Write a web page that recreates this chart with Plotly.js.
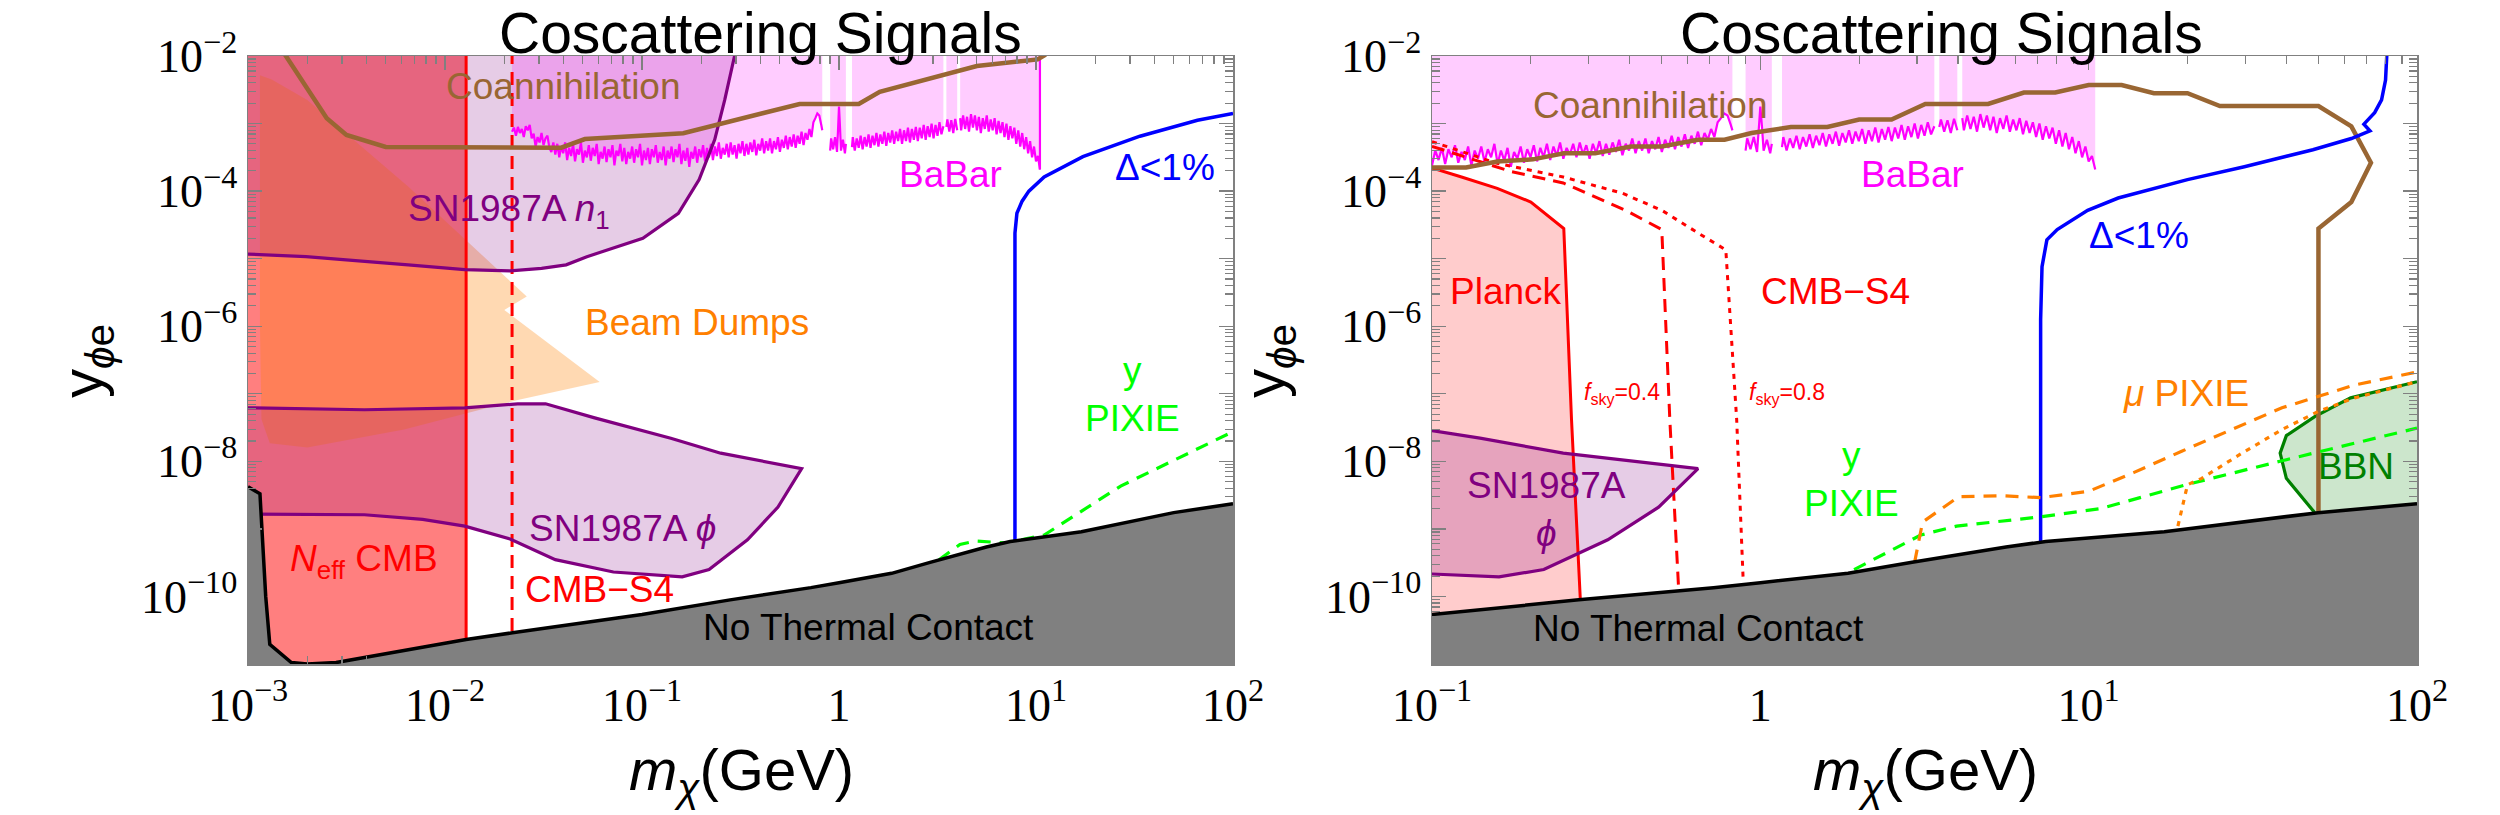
<!DOCTYPE html>
<html>
<head>
<meta charset="utf-8">
<script src="https://cdn.plot.ly/plotly-3.0.1.min.js"></script>
<style>
  html, body { margin: 0; padding: 0; background: #ffffff; }
  #chart { width: 2500px; height: 815px; }
</style>
</head>
<body>
<div id="chart"></div>
<script>
// Coscattering dark-matter parameter space: mass m_chi (GeV) vs coupling y_phi_e.

// ---------- shared constraints ----------
// No thermal contact (lower edge of the allowed band)
const ntcMass     = [1e-3, 1.15e-3, 1.23e-3, 1.29e-3, 1.66e-3, 2.0e-3, 2.8e-3, 0.0128, 0.022, 0.1, 0.28, 0.72, 1.0, 1.85, 2.9, 5.6, 7.4, 17, 50, 100];
const ntcCoupling = [4.2e-9, 3.3e-9, 1.0e-10, 1.95e-11, 1.05e-11, 1.0e-11, 1.05e-11, 2.3e-11, 2.9e-11, 5.4e-11, 8.9e-11, 1.35e-10, 1.6e-10, 2.2e-10, 3.2e-10, 5.4e-10, 6.5e-10, 9.1e-10, 1.74e-9, 2.35e-9];

// BaBar mono-photon limit, stored as log10 values; null marks a gap in the search
const babarLogMass = [
  -1.66,-1.65,-1.64,-1.63,-1.62,-1.61,-1.60,-1.59,-1.58,-1.57,
  -1.56,-1.55,-1.54,-1.53,-1.52,-1.51,-1.50,-1.49,-1.48,-1.47,
  -1.46,-1.45,-1.44,-1.43,-1.42,-1.41,-1.40,-1.39,-1.38,-1.37,
  -1.36,-1.35,-1.34,-1.33,-1.32,-1.31,-1.30,-1.29,-1.28,-1.27,
  -1.26,-1.25,-1.24,-1.23,-1.22,-1.21,-1.20,-1.19,-1.18,-1.17,
  -1.16,-1.15,-1.14,-1.13,-1.12,-1.11,-1.10,-1.09,-1.08,-1.07,
  -1.06,-1.05,-1.04,-1.03,-1.02,-1.01,-1.00,-0.99,-0.98,-0.97,
  -0.96,-0.95,-0.94,-0.93,-0.92,-0.91,-0.90,-0.89,-0.88,-0.87,
  -0.86,-0.85,-0.84,-0.83,-0.82,-0.81,-0.80,-0.79,-0.78,-0.77,
  -0.76,-0.75,-0.74,-0.73,-0.72,-0.71,-0.70,-0.69,-0.68,-0.67,
  -0.66,-0.65,-0.64,-0.63,-0.62,-0.61,-0.60,-0.59,-0.58,-0.57,
  -0.56,-0.55,-0.54,-0.53,-0.52,-0.51,-0.50,-0.49,-0.48,-0.47,
  -0.46,-0.45,-0.44,-0.43,-0.42,-0.41,-0.40,-0.39,-0.38,-0.37,
  -0.36,-0.35,-0.34,-0.33,-0.32,-0.31,-0.30,-0.29,-0.28,-0.27,
  -0.26,-0.25,-0.24,-0.23,-0.22,-0.21,-0.20,-0.19,-0.18,-0.17,
  -0.16,-0.15,-0.14,-0.13,-0.12,-0.11,-0.10,-0.09,-0.085, null,
  -0.045,-0.04,-0.03,-0.02,-0.01,-0.005,0.0,0.005,0.01,0.02,0.03,0.035, null,
  0.066,
  0.07,0.08,0.09,0.10,0.11,0.12,0.13,0.14,0.15,0.16,
  0.17,0.18,0.19,0.20,0.21,0.22,0.23,0.24,0.25,0.26,
  0.27,0.28,0.29,0.30,0.31,0.32,0.33,0.34,0.35,0.36,
  0.37,0.38,0.39,0.40,0.41,0.42,0.43,0.44,0.45,0.46,
  0.47,0.48,0.49,0.50,0.51,0.52,0.53, null,
  0.545,0.55,0.56,0.57,0.58,0.59,0.60, null,
  0.615,
  0.62,0.63,0.64,0.65,0.66,0.67,0.68,0.69,0.70,0.71,
  0.72,0.73,0.74,0.75,0.76,0.77,0.78,0.79,0.80,0.81,
  0.82,0.83,0.84,0.85,0.86,0.87,0.88,0.89,0.90,0.91,
  0.92,0.93,0.94,0.95,0.96,0.97,0.98,0.99,1.00,1.01,1.02
];
const babarLogCoupling = [
  -3.12,-3.06,-3.18,-3.05,-3.14,-3.08,-3.20,-3.04,-3.10,-3.02,
  -3.22,-3.15,-3.34,-3.20,-3.28,-3.14,-3.32,-3.22,-3.18,-3.36,
  -3.42,-3.28,-3.46,-3.30,-3.50,-3.34,-3.44,-3.28,-3.54,-3.36,
  -3.48,-3.30,-3.56,-3.38,-3.46,-3.28,-3.58,-3.40,-3.50,-3.32,
  -3.55,-3.36,-3.48,-3.30,-3.60,-3.42,-3.52,-3.34,-3.57,-3.38,
  -3.50,-3.32,-3.62,-3.40,-3.48,-3.30,-3.56,-3.36,-3.60,-3.42,
  -3.52,-3.34,-3.58,-3.38,-3.50,-3.30,-3.62,-3.40,-3.54,-3.36,
  -3.60,-3.38,-3.50,-3.32,-3.58,-3.42,-3.54,-3.34,-3.62,-3.40,
  -3.52,-3.34,-3.57,-3.38,-3.50,-3.30,-3.60,-3.40,-3.55,-3.36,
  -3.64,-3.42,-3.52,-3.34,-3.58,-3.38,-3.50,-3.32,-3.56,-3.36,
  -3.50,-3.30,-3.54,-3.34,-3.48,-3.28,-3.52,-3.36,-3.46,-3.30,
  -3.50,-3.28,-3.46,-3.32,-3.52,-3.30,-3.44,-3.26,-3.48,-3.30,
  -3.46,-3.28,-3.42,-3.24,-3.47,-3.30,-3.40,-3.22,-3.44,-3.26,
  -3.40,-3.22,-3.44,-3.26,-3.38,-3.20,-3.42,-3.24,-3.36,-3.18,
  -3.38,-3.20,-3.34,-3.16,-3.36,-3.18,-3.30,-3.12,-3.32,-3.14,
  -3.24,-3.08,-3.20,-2.98,-2.92,-2.85,-2.88,-3.02,-3.10, null,
  -3.40,-3.22,-3.38,-3.20,-3.42,-3.10,-2.75,-3.05,-3.40,-3.24,-3.44,-3.30, null,
  -3.35,
  -3.20,-3.40,-3.22,-3.36,-3.18,-3.38,-3.20,-3.34,-3.16,-3.36,
  -3.18,-3.32,-3.14,-3.34,-3.16,-3.30,-3.12,-3.33,-3.14,-3.28,
  -3.10,-3.30,-3.12,-3.26,-3.08,-3.30,-3.10,-3.26,-3.06,-3.28,
  -3.08,-3.24,-3.05,-3.26,-3.06,-3.22,-3.02,-3.24,-3.04,-3.20,
  -3.00,-3.22,-3.02,-3.18,-2.98,-3.16,-3.04, null,
  -3.05,-2.94,-3.12,-2.95,-3.14,-2.93,-3.10, null,
  -2.92,
  -3.10,-2.88,-3.08,-2.90,-3.12,-2.86,-3.06,-2.88,-3.10,-2.90,
  -3.14,-2.92,-3.08,-2.88,-3.12,-2.94,-3.10,-2.92,-3.16,-2.96,
  -3.14,-2.98,-3.20,-3.00,-3.24,-3.04,-3.22,-3.06,-3.30,-3.10,
  -3.34,-3.14,-3.38,-3.20,-3.44,-3.26,-3.50,-3.34,-3.56,-3.48,-3.68
];

// SN1987A phi cooling region (upper edge, then lower edge back)
const snPhiMass     = [1e-3, 3.9e-3, 0.0126, 0.0234, 0.0324, 0.0575, 0.140, 0.251, 0.646, 0.490, 0.343, 0.219, 0.160, 0.0716, 0.0363, 0.0214, 0.0126, 7.7e-3, 3.9e-3, 1e-3];
const snPhiCoupling = [6.2e-8, 5.8e-8, 6.2e-8, 7.1e-8, 7.1e-8, 4.4e-8, 2.2e-8, 1.32e-8, 7.8e-9, 2.1e-9, 6.9e-10, 2.5e-10, 1.95e-10, 2.3e-10, 3.5e-10, 7.1e-10, 1.1e-9, 1.38e-9, 1.62e-9, 1.66e-9];

// ---------- left panel ----------
const neffMassBound  = 0.0128;   // N_eff CMB (Planck)
const cmbS4MassBound = 0.0219;   // CMB-S4 projection

const beamMass     = [1.15e-3, 1.32e-3, 2.0e-3, 6.5e-3, 0.026, 0.020, 0.061, 0.0234, 6.2e-3, 2.0e-3, 1.29e-3, 1.17e-3, 1.15e-3];
const beamCoupling = [5.2e-3, 4.5e-3, 2.24e-3, 1.17e-4, 2.75e-6, 1.74e-6, 1.5e-7, 8.1e-8, 2.95e-8, 1.6e-8, 1.86e-8, 4.2e-8, 1e-6];

const snN1Mass     = [1e-3, 1.97e-3, 6.5e-3, 0.0126, 0.0214, 0.0309, 0.0412, 0.0525, 0.101, 0.153, 0.195, 0.234, 0.263, 0.295];
const snN1Coupling = [1.17e-5, 1.07e-5, 8.1e-6, 6.9e-6, 6.6e-6, 7.2e-6, 8.1e-6, 1.07e-5, 2.0e-5, 4.7e-5, 1.48e-4, 5.8e-4, 2.24e-3, 1e-2];

const coannLeftMass     = [1.5e-3, 2.51e-3, 3.16e-3, 5.0e-3, 0.0389, 0.0513, 0.162, 0.631, 1.26, 1.61, 5.01, 10.2, 11.2];
const coannLeftCoupling = [0.0118, 1.2e-3, 6.8e-4, 4.5e-4, 4.4e-4, 5.9e-4, 7.2e-4, 1.95e-3, 1.95e-3, 2.95e-3, 7.1e-3, 8.9e-3, 0.0105];

const deltaLeftMass     = [7.82, 7.82, 8.0, 8.5, 9.2, 11.0, 17.3, 33.7, 66, 100];
const deltaLeftCoupling = [6.5e-10, 2.4e-5, 4.7e-5, 7.1e-5, 1.0e-4, 1.62e-4, 3.24e-4, 6.5e-4, 1.12e-3, 1.41e-3];

const yPixieLeftMass     = [3.22, 4.11, 4.93, 7.05, 11.0, 26.9, 100];
const yPixieLeftCoupling = [3.5e-10, 5.9e-10, 6.6e-10, 6.2e-10, 8.1e-10, 4.3e-9, 2.75e-8];

// ---------- right panel ----------
const planckMass     = [0.1, 0.123, 0.158, 0.2, 0.252, 0.266, 0.283];
const planckCoupling = [2.2e-4, 1.62e-4, 1.1e-4, 6.9e-5, 2.8e-5, 4.2e-8, 8.9e-11];

const s4Sky04Mass     = [0.1, 0.174, 0.251, 0.389, 0.501, 0.530, 0.564];
const s4Sky04Coupling = [4.6e-4, 1.95e-4, 1.32e-4, 5.2e-5, 2.7e-5, 4.2e-8, 1.26e-10];
const s4Sky08Mass     = [0.1, 0.158, 0.251, 0.38, 0.501, 0.646, 0.785, 0.847, 0.887];
const s4Sky08Coupling = [5.4e-4, 2.57e-4, 1.62e-4, 9.3e-5, 5.2e-5, 2.4e-5, 1.35e-5, 4.2e-8, 1.66e-10];

const coannRightMass     = [0.1, 0.127, 0.158, 0.203, 0.252, 0.314, 0.404, 0.501, 0.646, 0.778, 0.94, 1.24, 1.6, 2.0, 2.51, 3.18, 4.94, 6.35, 7.91, 10.0, 12.6, 15.8, 20, 25.1, 50.1, 63.1, 72.4, 63.1, 50.1, 50.1];
const coannRightCoupling = [2.24e-4, 2.24e-4, 2.75e-4, 2.95e-4, 3.63e-4, 3.63e-4, 4.57e-4, 4.57e-4, 5.75e-4, 5.75e-4, 7.24e-4, 8.9e-4, 8.9e-4, 1.15e-3, 1.15e-3, 1.95e-3, 1.95e-3, 2.88e-3, 2.88e-3, 3.72e-3, 3.72e-3, 2.82e-3, 2.82e-3, 1.82e-3, 1.82e-3, 9.1e-4, 2.63e-4, 6.9e-5, 2.8e-5, 1.74e-9];

const deltaRightMass     = [7.14, 7.14, 7.21, 7.46, 8.02, 9.93, 12.3, 20.0, 29.8, 48.2, 63.1, 71.9, 68.9, 74.3, 78.0, 80.2, 80.9];
const deltaRightCoupling = [6.3e-10, 1.26e-6, 7.6e-6, 1.9e-5, 2.7e-5, 5.2e-5, 7.9e-5, 1.48e-4, 2.3e-4, 4.1e-4, 6.0e-4, 7.8e-4, 9.8e-4, 1.45e-3, 2.24e-3, 4.4e-3, 0.0102];

const yPixieRightMass     = [1.93, 3.08, 3.96, 7.16, 10.9, 19.8, 38.8, 100];
const yPixieRightCoupling = [2.5e-10, 8.1e-10, 1.1e-9, 1.51e-9, 2.0e-9, 4.5e-9, 1.02e-8, 3.1e-8];

const muPixieMass     = [2.95, 3.12, 4.02, 5.41, 7.16, 10.0, 13.7, 19.2, 38.8, 64.6, 100];
const muPixieCoupling = [3.2e-10, 1.26e-9, 3.0e-9, 3.1e-9, 2.9e-9, 3.6e-9, 6.8e-9, 1.41e-8, 6.2e-8, 1.35e-7, 2.1e-7];
const muPixieAltMass     = [18.7, 20.0, 22.1, 29.3, 38.8, 50.1, 64.6, 100];
const muPixieAltCoupling = [1.1e-9, 4.5e-9, 5.6e-9, 1.32e-8, 2.95e-8, 5.5e-8, 8.7e-8, 1.51e-7];

const bbnMass     = [48.8, 40.0, 38.3, 40.0, 48.8, 62.8, 100];
const bbnCoupling = [1.74e-9, 5.6e-9, 1.32e-8, 2.4e-8, 4.6e-8, 8.7e-8, 1.51e-7];

// ---------- helpers ----------
// Points far outside the frame, used only to close filled regions
const Y_LOW = 1e-13, Y_HIGH = 1, X_LOW = 1e-5, X_HIGH = 1e4;

const toLinear = arr => arr.map(v => (v === null ? null : Math.pow(10, v)));
const babarMass = toLinear(babarLogMass);
const babarCoupling = toLinear(babarLogCoupling);

function segments(xs, ys) {
  const out = []; let cur = [];
  xs.forEach((x, i) => {
    if (x === null || ys[i] === null) { if (cur.length) out.push(cur); cur = []; }
    else cur.push([x, ys[i]]);
  });
  if (cur.length) out.push(cur);
  return out;
}
// one closed polygon per segment, running from the curve up past the top of the frame
function regionAbove(xs, ys) {
  const X = [], Y = [];
  segments(xs, ys).forEach(seg => {
    seg.forEach(p => { X.push(p[0]); Y.push(p[1]); });
    X.push(seg[seg.length - 1][0], seg[0][0], null);
    Y.push(Y_HIGH, Y_HIGH, null);
  });
  return { x: X, y: Y };
}
const last = a => a[a.length - 1];

const C = {
  red: '#FF0000', purple: '#800080', brown: '#996633', magenta: '#FF00FF', blue: '#0000FF',
  green: '#00FF00', orange: '#FF8000', dkgreen: '#008000', gray: '#808080', black: '#000000'
};

function fillTrace(ax, x, y, color) {
  return { type: 'scatter', mode: 'lines', xaxis: ax[0], yaxis: ax[1], x, y,
           fill: 'toself', fillcolor: color, line: { width: 0 }, hoverinfo: 'skip' };
}
function lineTrace(ax, x, y, color, width, dash) {
  return { type: 'scatter', mode: 'lines', xaxis: ax[0], yaxis: ax[1], x, y,
           line: { color, width, dash: dash || 'solid', simplify: false }, hoverinfo: 'skip' };
}

const L = ['x', 'y'], R = ['x2', 'y2'];
const babarRegion = regionAbove(babarMass, babarCoupling);
const babarEnd = segments(babarMass, babarCoupling).slice(-1)[0].slice(-1)[0];

const traces = [
  // ---- left panel fills ----
  fillTrace(L, [X_LOW, neffMassBound, neffMassBound, X_LOW], [Y_LOW, Y_LOW, Y_HIGH, Y_HIGH], 'rgba(255,0,0,0.5)'),
  fillTrace(L, beamMass, beamCoupling, 'rgba(255,128,0,0.3)'),
  fillTrace(L, [X_LOW].concat(snN1Mass, [last(snN1Mass), X_LOW]),
               [snN1Coupling[0]].concat(snN1Coupling, [Y_HIGH, Y_HIGH]), 'rgba(128,0,128,0.2)'),
  fillTrace(L, snPhiMass, snPhiCoupling, 'rgba(128,0,128,0.2)'),
  fillTrace(L, babarRegion.x, babarRegion.y, 'rgba(255,0,255,0.2)'),
  // ---- left panel curves ----
  lineTrace(L, babarMass, babarCoupling, C.magenta, 2.2),
  lineTrace(L, [babarEnd[0], babarEnd[0]], [babarEnd[1], Y_HIGH], C.magenta, 2.2),
  lineTrace(L, [neffMassBound, neffMassBound], [Y_LOW, Y_HIGH], C.red, 3),
  lineTrace(L, [cmbS4MassBound, cmbS4MassBound], [Y_LOW, Y_HIGH], C.red, 3, '13px,8px'),
  lineTrace(L, snN1Mass, snN1Coupling, C.purple, 3.2),
  lineTrace(L, snPhiMass, snPhiCoupling, C.purple, 3.2),
  lineTrace(L, coannLeftMass, coannLeftCoupling, C.brown, 4.5),
  lineTrace(L, deltaLeftMass, deltaLeftCoupling, C.blue, 3.5),
  lineTrace(L, yPixieLeftMass, yPixieLeftCoupling, C.green, 3.2, '13px,9px'),
  fillTrace(L, ntcMass.concat([last(ntcMass), ntcMass[0]]), ntcCoupling.concat([Y_LOW, Y_LOW]), C.gray),
  lineTrace(L, ntcMass, ntcCoupling, C.black, 3.5),

  // ---- right panel fills ----
  fillTrace(R, babarRegion.x, babarRegion.y, 'rgba(255,0,255,0.2)'),
  fillTrace(R, [X_LOW].concat(planckMass, [last(planckMass), X_LOW]),
               [planckCoupling[0]].concat(planckCoupling, [Y_LOW, Y_LOW]), 'rgba(255,0,0,0.2)'),
  fillTrace(R, snPhiMass, snPhiCoupling, 'rgba(128,0,128,0.2)'),
  fillTrace(R, bbnMass.concat([X_HIGH, X_HIGH, bbnMass[0]]),
               bbnCoupling.concat([last(bbnCoupling), Y_LOW, Y_LOW]), 'rgba(0,128,0,0.2)'),
  // ---- right panel curves ----
  lineTrace(R, babarMass, babarCoupling, C.magenta, 2.2),
  lineTrace(R, planckMass, planckCoupling, C.red, 3),
  lineTrace(R, s4Sky04Mass, s4Sky04Coupling, C.red, 3, '13px,8px'),
  lineTrace(R, s4Sky08Mass, s4Sky08Coupling, C.red, 3, '5px,6px'),
  lineTrace(R, snPhiMass, snPhiCoupling, C.purple, 3.2),
  lineTrace(R, bbnMass, bbnCoupling, C.dkgreen, 3.2),
  lineTrace(R, coannRightMass, coannRightCoupling, C.brown, 4.5),
  lineTrace(R, deltaRightMass, deltaRightCoupling, C.blue, 3.5),
  lineTrace(R, yPixieRightMass, yPixieRightCoupling, C.green, 3.2, '13px,9px'),
  lineTrace(R, muPixieMass, muPixieCoupling, C.orange, 3.2, '13px,9px'),
  lineTrace(R, muPixieAltMass, muPixieAltCoupling, C.orange, 3.2, '5px,6px'),
  fillTrace(R, ntcMass.concat([last(ntcMass), ntcMass[0]]), ntcCoupling.concat([Y_LOW, Y_LOW]), C.gray),
  lineTrace(R, ntcMass, ntcCoupling, C.black, 3.5)
];

// ---------- axes ----------
const W = 2500, H = 815;
const plotTop = 56, plotBottom = 664;
const powerLabel = e => (e === 0 ? '1' : '10<sup>' + (e < 0 ? '\u2212' : '') + Math.abs(e) + '</sup>');
function decades(lo, hi) { const out = []; for (let e = lo; e <= hi; e++) out.push(e); return out; }
function minorValues(lo, hi) {
  const out = [];
  for (let e = lo; e < hi; e++) for (let k = 2; k <= 9; k++) out.push(k * Math.pow(10, e));
  return out;
}
const tickFont = { family: 'Liberation Serif, Times New Roman, serif', size: 46, color: '#000' };
function frameAxis(domain, lo, hi, labelled) {
  const exps = decades(lo, hi);
  return {
    type: 'log', range: [lo, hi], domain, autorange: false, fixedrange: true,
    showline: true, linecolor: C.gray, linewidth: 1.5, mirror: 'ticks',
    showgrid: false, zeroline: false,
    ticks: 'inside', ticklen: 14, tickwidth: 1.4, tickcolor: C.gray,
    tickmode: 'array', tickvals: exps.map(e => Math.pow(10, e)),
    ticktext: exps.map(e => (labelled(e) ? powerLabel(e) : '')),
    tickfont: tickFont,
    minor: { tickmode: 'array', tickvals: minorValues(lo, hi), ticks: 'inside', ticklen: 8, tickwidth: 1.2, tickcolor: C.gray, showgrid: false }
  };
}
const yDomain = [1 - plotBottom / H, 1 - plotTop / H];

// ---------- labels ----------
const sans = 'Liberation Sans, Arial, Helvetica, sans-serif';
function note(ax, x, y, text, color, size) {
  return { xref: ax[0], yref: ax[1], x, y, text, showarrow: false,
           xanchor: 'center', yanchor: 'middle', font: { family: sans, size: size || 37, color } };
}
function paperNote(px, py, text, size, angle) {
  return { xref: 'paper', yref: 'paper', x: px / W, y: 1 - py / H, text, showarrow: false,
           xanchor: 'center', yanchor: 'middle', textangle: angle || 0,
           font: { family: sans, size, color: '#000' } };
}

const annotations = [
  paperNote(760, 33, 'Coscattering Signals', 57),
  paperNote(1941, 33, 'Coscattering Signals', 57),
  paperNote(741, 774, '<i>m</i><sub><i>\u03C7</i></sub>(GeV)', 58),
  paperNote(1925, 774, '<i>m</i><sub><i>\u03C7</i></sub>(GeV)', 58),
  paperNote(86, 361, 'y<sub><i>\u03D5</i>e</sub>', 58, -90),
  paperNote(1268, 361, 'y<sub><i>\u03D5</i>e</sub>', 58, -90),

  // left panel
  note(L, -1.398, -2.45, 'Coannihilation', C.brown),
  note(L, -1.675, -4.30, 'SN1987A <i>n</i><sub>1</sub>', C.purple),
  note(L, -0.72, -5.95, 'Beam Dumps', C.orange),
  note(L, 0.564, -3.76, 'BaBar', C.magenta),
  note(L, 1.655, -3.65, '\u0394&lt;1%', C.blue),
  note(L, 1.49, -7.01, 'y<br>PIXIE', C.green),
  note(L, -2.41, -9.48, '<i>N</i><sub>eff</sub> CMB', C.red),
  note(L, -1.10, -8.99, 'SN1987A <i>\u03D5</i>', C.purple),
  note(L, -1.218, -9.90, 'CMB\u2212S4', C.red),
  note(L, 0.152, -10.46, 'No Thermal Contact', C.black),

  // right panel
  note(R, -0.336, -2.74, 'Coannihilation', C.brown),
  note(R, 0.462, -3.76, 'BaBar', C.magenta),
  note(R, 1.154, -4.65, '\u0394&lt;1%', C.blue),
  note(R, -0.776, -5.48, 'Planck', C.red),
  note(R, 0.23, -5.48, 'CMB\u2212S4', C.red),
  note(R, -0.422, -7.0, '<i>f</i><sub>sky</sub>=0.4', C.red, 23),
  note(R, 0.081, -7.0, '<i>f</i><sub>sky</sub>=0.8', C.red, 23),
  note(R, 1.297, -6.99, '<i>\u03BC</i> PIXIE', C.orange),
  note(R, 0.277, -8.27, 'y<br>PIXIE', C.green),
  note(R, 1.815, -8.07, 'BBN', C.dkgreen),
  note(R, -0.65, -8.72, 'SN1987A<br><i>\u03D5</i>', C.purple),
  note(R, -0.187, -10.48, 'No Thermal Contact', C.black)
];

const layout = {
  width: W, height: H,
  margin: { l: 0, r: 0, t: 0, b: 0, pad: 0 },
  paper_bgcolor: '#ffffff', plot_bgcolor: '#ffffff',
  showlegend: false, hovermode: false,
  xaxis:  Object.assign(frameAxis([248 / W, 1233 / W], -3, 2, () => true), { anchor: 'y' }),
  yaxis:  Object.assign(frameAxis(yDomain, -11, -2, e => e % 2 === 0), { anchor: 'x' }),
  xaxis2: Object.assign(frameAxis([1432 / W, 2417 / W], -1, 2, () => true), { anchor: 'y2' }),
  yaxis2: Object.assign(frameAxis(yDomain, -11, -2, e => e % 2 === 0), { anchor: 'x2' }),
  annotations
};

Plotly.newPlot('chart', traces, layout, { staticPlot: true, displayModeBar: false });
</script>
</body>
</html>
